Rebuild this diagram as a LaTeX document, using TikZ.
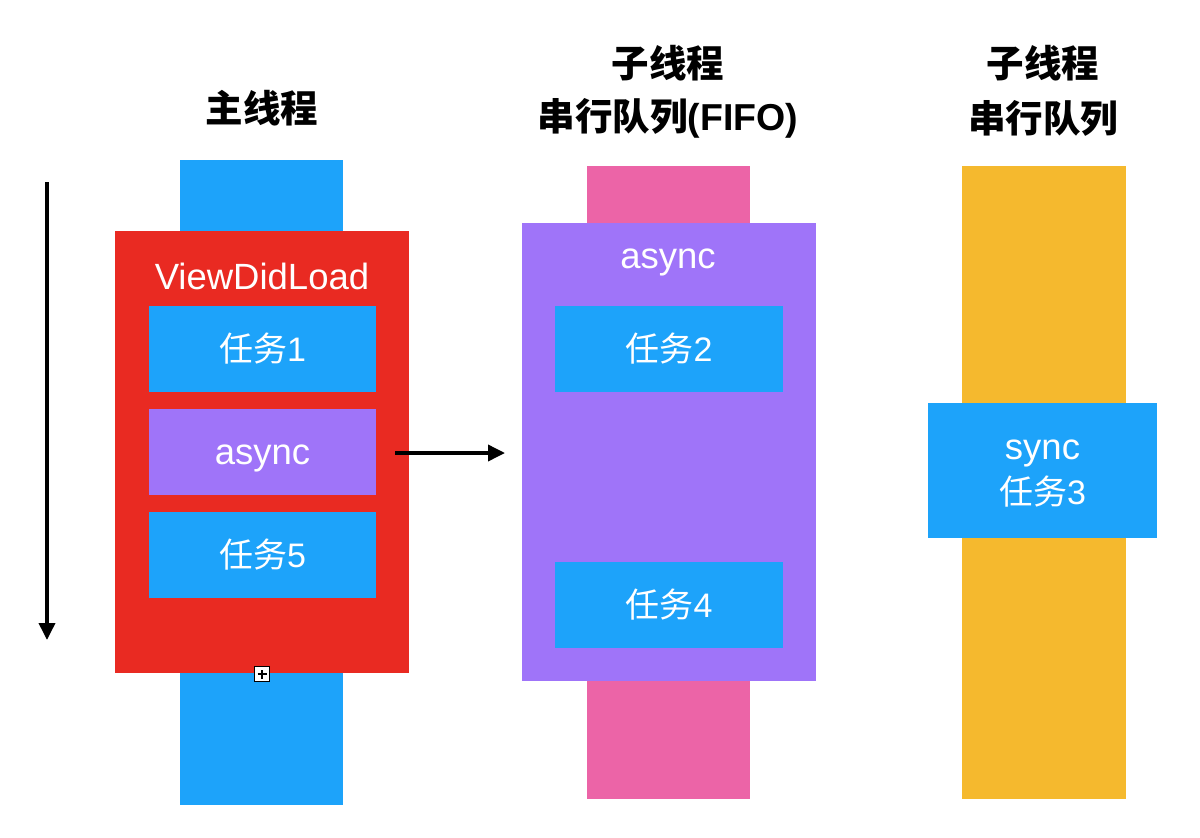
\documentclass[tikz,border=0pt]{standalone}
\usepackage{fontspec}
\setmainfont{Liberation Sans}
\newfontfamily\cjk{Noto Sans CJK SC}
\usetikzlibrary{arrows.meta}
\definecolor{cblue}{HTML}{1DA3FA}
\definecolor{cred}{HTML}{E92A22}
\definecolor{cpurple}{HTML}{9F74F9}
\definecolor{cpink}{HTML}{EC64A7}
\definecolor{corange}{HTML}{F5B92E}
\tikzset{
  block/.style={draw=none, inner sep=0pt, outer sep=0pt, rectangle},
  boxtext/.style={text=white, inner sep=0pt, font=\fontsize{34}{40}\selectfont},
  wordtext/.style={text=white, inner sep=0pt, font=\fontsize{36.5}{40}\selectfont},
  title/.style={text=black, inner sep=0pt, align=center, font=\fontsize{37.5}{55}\selectfont\bfseries},
  flow/.style={line width=3.6pt, -{Triangle[width=16pt,length=17pt]}},
}
\begin{document}
\begin{tikzpicture}[x=1pt,y=-1pt]
\useasboundingbox (0,0) rectangle (1200,838);
\fill[white] (0,0) rectangle (1200,838);
% titles
\node[title] (t1) at (262,108) {{\cjk\bfseries 主线程}};
\node[title] (t2a) at (668,63) {{\cjk\bfseries 子线程}};
\node[title] (t2b) at (668,118) {{\cjk\bfseries 串行队列}(FIFO)};
\node[title] (t3a) at (1043,63) {{\cjk\bfseries 子线程}};
\node[title] (t3b) at (1043,118) {{\cjk\bfseries 串行队列}};
% bars
\node[block, fill=cblue, minimum width=163pt, minimum height=645pt] (mainbar) at (261.5,482.5) {};
\node[block, fill=cpink, minimum width=163pt, minimum height=633pt] (pinkbar) at (668.5,482.5) {};
\node[block, fill=corange, minimum width=164pt, minimum height=633pt] (orangebar) at (1044,482.5) {};
% main thread
\node[block, fill=cred, minimum width=294pt, minimum height=442pt] (vdl) at (262,452) {};
\node[wordtext, anchor=base] (vdltext) at (262,289) {ViewDidLoad};
\node[block, fill=cblue, minimum width=227pt, minimum height=86pt] (task1) at (262.5,349) {};
\node[boxtext] at (task1.center) {{\cjk 任务}1};
\node[block, fill=cpurple, minimum width=227pt, minimum height=86pt] (async1) at (262.5,452) {};
\node[wordtext, anchor=base] at (262.5,464) {async};
\node[block, fill=cblue, minimum width=227pt, minimum height=86pt] (task5) at (262.5,555) {};
\node[boxtext] at (task5.center) {{\cjk 任务}5};
% serial queue FIFO
\node[block, fill=cpurple, minimum width=294pt, minimum height=458pt] (asyncq) at (669,452) {};
\node[wordtext, anchor=base] (asynctext) at (668,268) {async};
\node[block, fill=cblue, minimum width=228pt, minimum height=86pt] (task2) at (669,349) {};
\node[boxtext] at (task2.center) {{\cjk 任务}2};
\node[block, fill=cblue, minimum width=228pt, minimum height=86pt] (task4) at (669,605) {};
\node[boxtext] at (task4.center) {{\cjk 任务}4};
% serial queue
\node[block, fill=cblue, minimum width=229pt, minimum height=135pt] (task3) at (1042.5,470.5) {};
\node[wordtext, anchor=base] (synctext) at (1042.5,459) {sync};
\node[boxtext] (task3text) at (1042.5,492) {{\cjk 任务}3};
% small handle
\node[draw=black, fill=white, line width=1.4pt, minimum size=15pt, inner sep=0pt] (handle) at (262,674) {};
\draw[line width=1.4pt] ([xshift=-4.5pt]handle.center) -- ([xshift=4.5pt]handle.center);
\draw[line width=1.4pt] ([yshift=-4.5pt]handle.center) -- ([yshift=4.5pt]handle.center);
% arrows
\coordinate (tl0) at (47,182);
\coordinate (tl1) at (47,640);
\draw[flow] (tl0) -- (tl1);
\coordinate (a0) at (395,453);
\coordinate (a1) at (505,453);
\draw[flow] (a0) -- (a1);
\end{tikzpicture}
\end{document}
